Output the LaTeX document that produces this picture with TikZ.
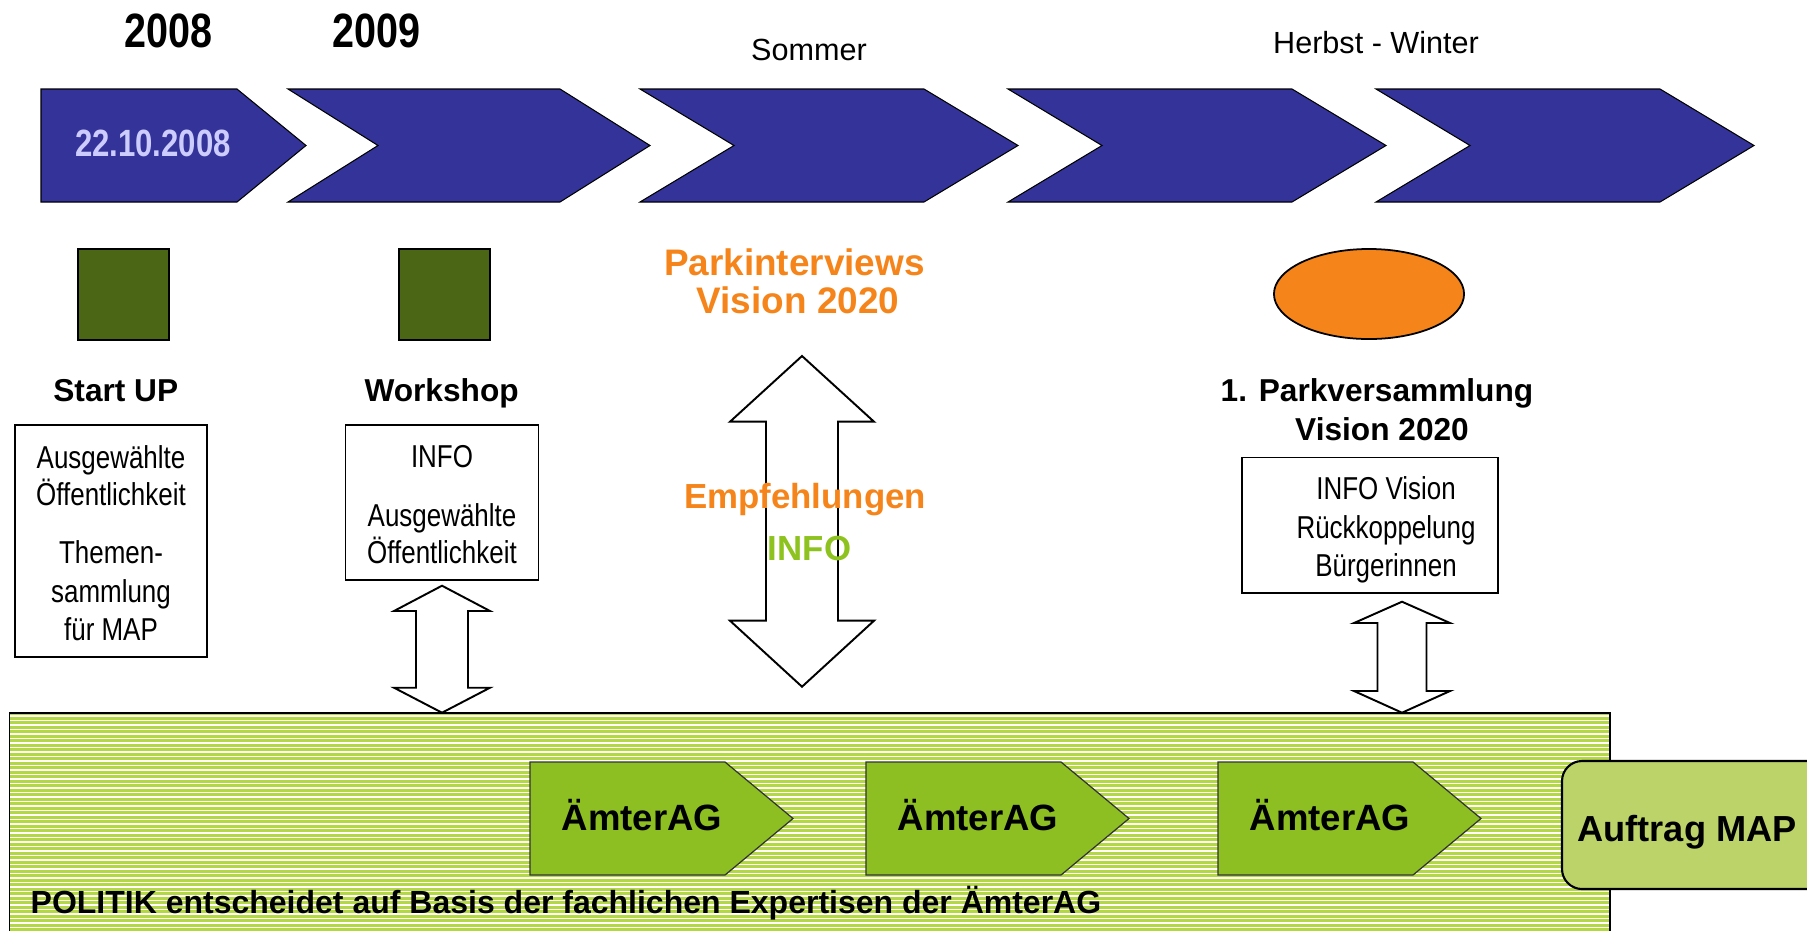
\documentclass[tikz,border=0pt]{standalone}
\usepackage{fontspec}
\setmainfont{Liberation Sans}
\newfontfamily\narrowfont{Liberation Sans}[FakeStretch=0.82]
\usepackage{tikz}
\usetikzlibrary{shapes.geometric}

\definecolor{chevblue}{HTML}{333399}
\definecolor{datelilac}{HTML}{CCCCFF}
\definecolor{olivegreen}{HTML}{4B6614}
\definecolor{parkorange}{HTML}{F5851A}
\definecolor{infogreen}{HTML}{8DC21F}
\definecolor{bandgreen}{HTML}{B3D843}
\definecolor{amtgreen}{HTML}{8DBF22}
\definecolor{mapgreen}{HTML}{BCD36A}

\begin{document}
\begin{tikzpicture}[x=0.01cm,y=-0.01cm,
  chev/.style={fill=chevblue,draw=black,line width=0.3pt},
  sq/.style={draw=black,fill=olivegreen,line width=0.6pt,minimum size=0.91cm,inner sep=0pt},
  infobox/.style={draw=black,line width=0.45pt,inner sep=0pt},
  blockarrow/.style={draw=black,fill=white,line width=0.55pt},
  amt/.style={fill=amtgreen,draw=black!80,line width=0.35pt},
  boxtxt/.style={font=\narrowfont\fontsize{9}{11}\selectfont,anchor=base,inner sep=0pt},
  lbl/.style={font=\bfseries\fontsize{9}{11}\selectfont,anchor=base,inner sep=0pt},
  yearlbl/.style={font=\narrowfont\bfseries\fontsize{13.7}{16}\selectfont,anchor=base,inner sep=0pt},
  seasonlbl/.style={font=\fontsize{8.7}{10}\selectfont,anchor=base,inner sep=0pt},
  orangelbl/.style={font=\bfseries\fontsize{10.5}{12}\selectfont,text=parkorange,anchor=base,inner sep=0pt}]
\useasboundingbox (0,0) rectangle (1807,930);
\clip (0,0) rectangle (1807,930);

% timeline
\filldraw[chev] (41,89) -- (237,89) -- (306,145.5) -- (237,202) -- (41,202) -- cycle;
\foreach \l/\t/\n in {288/650/90, 640/1018/94, 1008/1386/94, 1376/1754/94}
  \filldraw[chev] (\l,89) -- (\t-\n,89) -- (\t,145.5) -- (\t-\n,202) -- (\l,202) -- (\l+\n,145.5) -- cycle;
\node[font=\narrowfont\bfseries\fontsize{10.8}{12}\selectfont,text=datelilac,anchor=base,inner sep=0pt] (date) at (153,156.7) {22.10.2008};

\node[yearlbl] (y2008) at (168.5,47) {2008};
\node[yearlbl] (y2009) at (376.5,47) {2009};
\node[seasonlbl] (sommer) at (809,60.5) {Sommer};
\node[seasonlbl] (herbst) at (1376,53.3) {Herbst - Winter};

% events
\node[sq] (startsq) at (123.5,294.5) {};
\node[sq] (worksq) at (444.5,294.5) {};
\node[draw=black,line width=0.5pt,fill=parkorange,ellipse,minimum width=1.9cm,minimum height=0.9cm,inner sep=0pt] (pvell) at (1369,294) {};

\node[orangelbl] (parkint) at (794.4,275.5) {Parkinterviews};
\node[orangelbl] (parkvis) at (798,313.9) {Vision 2020};

\node[lbl] (startup) at (115.8,401.7) {Start UP};
\node[lbl] (workshop) at (441.6,401.7) {Workshop};
\node[lbl] (pversamm) at (1377,401.7) {1. Parkversammlung};
\node[lbl] (pvvision) at (1382,440) {Vision 2020};

% text boxes
\node[infobox,minimum width=1.92cm,minimum height=2.32cm] (startbox) at (111,541) {};
\node[boxtxt] (sb1) at (111,468.5) {Ausgewählte};
\node[boxtxt] (sb2) at (111,505.4) {Öffentlichkeit};
\node[boxtxt] (sb3) at (111,563) {Themen-};
\node[boxtxt] (sb4) at (111,602) {sammlung};
\node[boxtxt] (sb5) at (111,640) {für MAP};

\node[infobox,minimum width=1.925cm,minimum height=1.55cm] (workbox) at (442,502.5) {};
\node[boxtxt] (wb1) at (442,467) {INFO};
\node[boxtxt] (wb2) at (442,526) {Ausgewählte};
\node[boxtxt] (wb3) at (442,563) {Öffentlichkeit};

\node[infobox,minimum width=2.56cm,minimum height=1.35cm] (visbox) at (1370,525.2) {};
\node[boxtxt] (vb1) at (1386,499.6) {INFO Vision};
\node[boxtxt] (vb2) at (1386,538.8) {Rückkoppelung};
\node[boxtxt] (vb3) at (1386,576.8) {Bürgerinnen};

% politik band
\fill[bandgreen] (9.6,713) rectangle (1610,935);
\foreach \k in {0,...,48}
  \draw[white,line width=0.32pt] (9.6,716+4.5*\k) -- (1610,716+4.5*\k);
\draw[line width=0.45pt] (9.6,935) -- (9.6,713) -- (1610,713) -- (1610,935);

% block arrows
\coordinate (a1top) at (442,585.7);
\coordinate (a2top) at (1402,601.7);
\coordinate (bigtop) at (802,356);
\draw[blockarrow] (a1top) -- (490,611) -- (468,611) -- (468,687.7) -- (490,687.7) -- (442,712.7)
  -- (394,687.7) -- (416,687.7) -- (416,611) -- (394,611) -- cycle;
\draw[blockarrow] (a2top) -- (1450,623) -- (1426.5,623) -- (1426.5,691) -- (1450,691) -- (1402,712.7)
  -- (1354,691) -- (1377.5,691) -- (1377.5,623) -- (1354,623) -- cycle;
\draw[blockarrow] (bigtop) -- (874,421.7) -- (838,421.7) -- (838,620.7) -- (874,620.7) -- (802,686.7)
  -- (730,620.7) -- (766,620.7) -- (766,421.7) -- (730,421.7) -- cycle;

\node[font=\bfseries\fontsize{9.9}{12}\selectfont,text=parkorange,anchor=base,inner sep=0pt] (empf) at (805,508) {Empfehlungen};
\node[font=\bfseries\fontsize{9.9}{12}\selectfont,text=infogreen,anchor=base,inner sep=0pt] (empfinfo) at (809.5,560) {INFO};

% aemter
\foreach \l [count=\i] in {530,866,1218} {
  \filldraw[amt] (\l,762) -- (\l+195,762) -- (\l+263,818.5) -- (\l+195,875) -- (\l,875) -- cycle;
  \node[font=\bfseries\fontsize{10.4}{12}\selectfont,anchor=base west,inner sep=0pt] (amt\i) at (\l+31,830.7) {ÄmterAG};
}

\filldraw[fill=mapgreen,draw=black,line width=0.6pt,rounded corners=0.2cm] (1562,761) rectangle (1840,889);
\node[font=\bfseries\fontsize{10.3}{12}\selectfont,anchor=base,inner sep=0pt] (auftrag) at (1687,841.7) {Auftrag MAP};

\node[font=\bfseries\fontsize{9.1}{11}\selectfont,anchor=base west,inner sep=0pt] (politik) at (30,913.3) {POLITIK entscheidet auf Basis der fachlichen Expertisen der ÄmterAG};
\end{tikzpicture}
\end{document}
